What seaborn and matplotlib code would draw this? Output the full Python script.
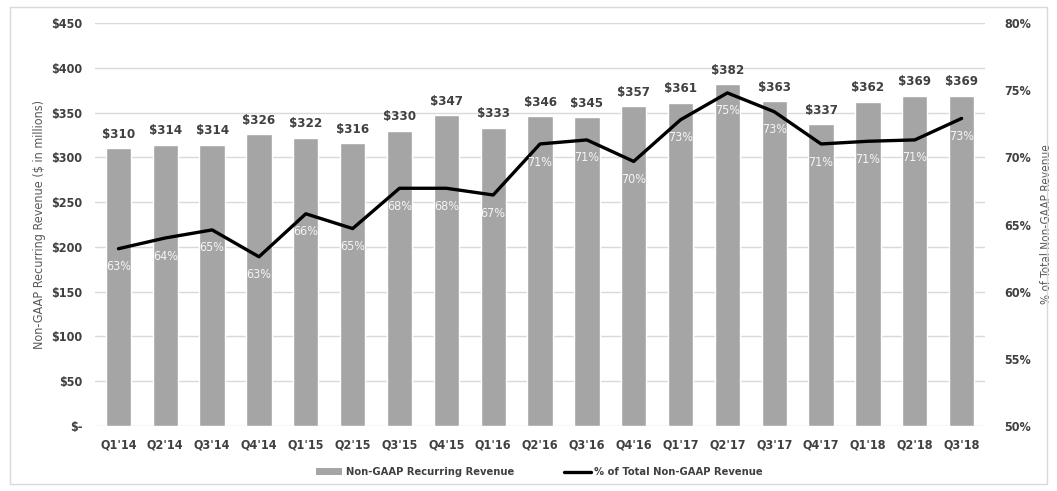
import numpy as np
import pandas as pd
import matplotlib
matplotlib.use('Agg')
import matplotlib.pyplot as plt
from matplotlib.patches import Rectangle, Patch
from matplotlib.lines import Line2D
import seaborn as sns

# data
quarters = ["Q1'14", "Q2'14", "Q3'14", "Q4'14", "Q1'15", "Q2'15", "Q3'15", "Q4'15",
            "Q1'16", "Q2'16", "Q3'16", "Q4'16", "Q1'17", "Q2'17", "Q3'17", "Q4'17",
            "Q1'18", "Q2'18", "Q3'18"]
recurring = [310, 314, 314, 326, 322, 316, 330, 347, 333, 346, 345, 357, 361, 382,
             363, 337, 362, 369, 369]
pct_total = [63.2, 64.0, 64.6, 62.6, 65.8, 64.7, 67.7, 67.7, 67.2, 71.0, 71.3, 69.7,
             72.8, 74.8, 73.4, 71.0, 71.2, 71.3, 72.9]

left_ticks = [0, 50, 100, 150, 200, 250, 300, 350, 400, 450]
right_ticks = [50, 55, 60, 65, 70, 75, 80]

df = pd.DataFrame({'quarter': quarters, 'recurring': recurring, 'pct': pct_total})

sns.set_theme(style="white")
plt.rcParams['font.family'] = ['DejaVu Sans']
plt.rcParams['font.stretch'] = 'condensed'

bar_color = '#A5A5A5'
text_color = '#404040'

fig = plt.figure(figsize=(10.57, 4.91), dpi=100)
ax = fig.add_axes([0.0899, 0.1324, 0.8420, 0.8206])

sns.barplot(data=df, x='quarter', y='recurring', color=bar_color, width=0.54,
            saturation=1, ax=ax, zorder=2)
ax.set_ylim(0, 450)
ax.set_xlim(-0.5, len(quarters) - 0.5)
ax.set_yticks(left_ticks)
ax.set_yticklabels(['$-'] + [f'${v}' for v in left_ticks[1:]])
ax.grid(axis='y', color='#D9D9D9', linewidth=1, zorder=0)
ax.set_axisbelow(True)
for s in ax.spines.values():
    s.set_visible(False)
ax.tick_params(axis='both', length=0, labelsize=9, colors=text_color, pad=9)
for lbl in ax.get_xticklabels() + ax.get_yticklabels():
    lbl.set_fontweight('bold')
ax.set_xlabel('')
ax.set_ylabel('Non-GAAP Recurring Revenue ($ in millions)', fontsize=9,
              color='#595959', labelpad=4)

# value labels above bars
for i, v in enumerate(recurring):
    ax.annotate(f'${v}', (i, v), xytext=(0, 10), textcoords='offset points',
                ha='center', va='center', fontsize=9.5, fontweight='bold',
                color=text_color)

ax2 = ax.twinx()
sns.lineplot(x=np.arange(len(quarters)), y=pct_total, color='black', linewidth=2.4,
             ax=ax2, zorder=3)
ax2.set_ylim(50, 80)
ax2.set_yticks(right_ticks)
ax2.set_yticklabels([f'{v}%' for v in right_ticks])
ax2.tick_params(axis='y', length=0, labelsize=9, colors=text_color, pad=14)
for lbl in ax2.get_yticklabels():
    lbl.set_fontweight('bold')
for s in ax2.spines.values():
    s.set_visible(False)
ax2.grid(False)
ax2.set_ylabel('% of Total Non-GAAP Revenue', fontsize=8.5, color='#595959', labelpad=6)

# percent labels below the line points
for i, p in enumerate(pct_total):
    ax2.annotate(f'{round(p)}%', (i, p), xytext=(0, -13), textcoords='offset points',
                 ha='center', va='center', fontsize=9, color='#F5F5F5', zorder=4)

handles = [Patch(facecolor=bar_color, edgecolor='none', label='Non-GAAP Recurring Revenue'),
           Line2D([0], [0], color='black', linewidth=2.4, label='% of Total Non-GAAP Revenue')]
leg = fig.legend(handles=handles, loc='center', bbox_to_anchor=(0.51, 0.038), ncol=2,
                 frameon=False, fontsize=8, handlelength=2.4, handleheight=0.6,
                 handletextpad=0.3, columnspacing=4.5)
for t in leg.get_texts():
    t.set_color(text_color)
    t.set_fontweight('bold')

# light outer border
fig.patches.append(Rectangle((0.0095, 0.014), 0.981, 0.972, transform=fig.transFigure,
                             fill=False, edgecolor='#D9D9D9', linewidth=1))

fig.savefig('out.png', dpi=100)
